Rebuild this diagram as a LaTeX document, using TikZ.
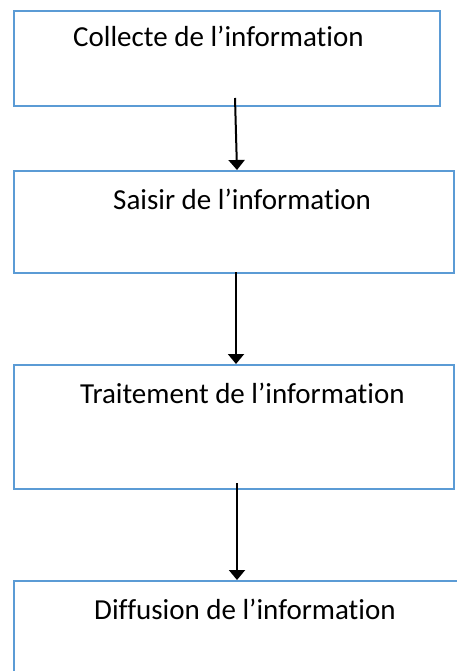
\documentclass[tikz,border=0pt]{standalone}
\usepackage{fontspec}
\setmainfont{Carlito}[Ligatures={NoCommon}]
\usetikzlibrary{arrows.meta}
\definecolor{boxblue}{HTML}{5B9BD5}
\tikzset{
  stagebox/.style={draw=boxblue, line width=2pt, rectangle, inner sep=0pt, anchor=north west},
  lbl/.style={anchor=base west, inner sep=0pt, font=\fontsize{29}{35}\selectfont},
  flow/.style={line width=2pt, -{Triangle[width=16pt,length=10pt]}}
}
\begin{document}
\begin{tikzpicture}[x=1pt,y=-1pt]
  \useasboundingbox (0,0) rectangle (457,671);
  \clip (0,0) rectangle (457,671);
  \fill[white] (0,0) rectangle (457,671);

  % the four stages
  \node[stagebox, minimum width=426pt, minimum height=95pt] (b1) at (13,10) {};
  \node[stagebox, minimum width=440pt, minimum height=102pt] (b2) at (13,170) {};
  \node[stagebox, minimum width=440pt, minimum height=124pt] (b3) at (13,364) {};
  \node[stagebox, minimum width=500pt, minimum height=150pt] (b4) at (13,580) {};

  \node[lbl] (t1) at (73,47) {Collecte de l’information};
  \node[lbl] (t2) at (113,209) {Saisir de l’information};
  \node[lbl] (t3) at (80,403) {Traitement de l’information};
  \node[lbl] (t4) at (94,619) {Diffusion de l’information};

  % connectors between stages
  \coordinate (s1) at (235,98);
  \coordinate (e1) at (237,170);
  \coordinate (s2) at (236,272);
  \coordinate (e2) at (236,364);
  \coordinate (s3) at (237,483);
  \coordinate (e3) at (237,580);
  \draw[flow] (s1) -- (e1);
  \draw[flow] (s2) -- (e2);
  \draw[flow] (s3) -- (e3);
\end{tikzpicture}
\end{document}
